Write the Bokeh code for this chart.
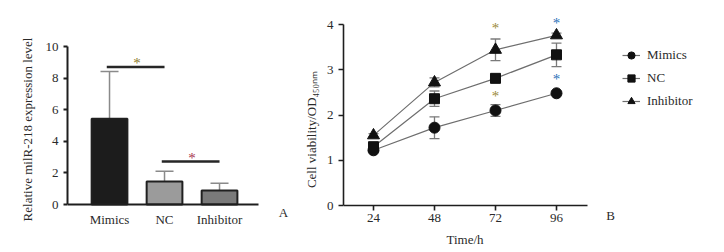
from bokeh.plotting import figure
from bokeh.layouts import row
from bokeh.models import (ColumnDataSource, Whisker, TeeHead, Label, Legend, LegendItem,
                          FixedTicker, Range1d)
from bokeh.embed import file_html
from bokeh.resources import INLINE

# ---------------- data ----------------
# Panel A
groups = ["Mimics", "NC", "Inhibitor"]
expr_mean = [5.42, 1.45, 0.88]
expr_err = [3.0, 0.65, 0.47]
bar_colors = ["#1c1c1c", "#9b9b9b", "#7a7a7a"]
sig_a_pairs = [(0, 1), (1, 2)]
sig_a_level = [8.7, 2.72]
sig_a_colors = ["#8c7a28", "#a8344e"]

# Panel B
hours = [24, 48, 72, 96]
series_names = ["Mimics", "NC", "Inhibitor"]
mimics = [1.22, 1.72, 2.10, 2.48]
mimics_err = [0.05, 0.24, 0.13, 0.04]
nc = [1.30, 2.36, 2.81, 3.33]
nc_err = [0.05, 0.17, 0.06, 0.26]
inhibitor = [1.55, 2.72, 3.44, 3.76]
inhibitor_err = [0.04, 0.10, 0.24, 0.05]
sig_b_x = [72, 72, 96, 96]
sig_b_y = [3.92, 2.41, 4.04, 2.79]
sig_b_colors = ["#9b8a3a", "#9b8a3a", "#2b70b8", "#2b70b8"]

FONT = "Liberation Serif"
TXT = "#2a2a2a"

def style(p, line_w):
    p.grid.visible = False
    p.outline_line_color = None
    p.background_fill_color = "white"
    p.border_fill_color = "white"
    for ax in p.axis:
        ax.axis_line_width = line_w
        ax.axis_line_color = "#1e1e1e"
        ax.major_tick_line_color = "#1e1e1e"
        ax.major_tick_line_width = line_w
        ax.minor_tick_line_color = None
        ax.major_label_text_font = FONT
        ax.major_label_text_font_size = "13px"
        ax.major_label_text_color = TXT
        ax.axis_label_text_font = FONT
        ax.axis_label_text_font_size = "13px"
        ax.axis_label_text_font_style = "normal"
        ax.axis_label_text_color = TXT

def lbl(x, y, text, color=TXT, size="13px"):
    return Label(x=x, y=y, text=text, text_align="center", text_baseline="middle",
                 text_font=FONT, text_font_size=size, text_color=color)

# common frame (top 8 px, bottom 250 px); axes on the zero lines
TOP, FH = 8, 242

# ---------------- Panel A ----------------
xa = [i + 1 for i in range(len(groups))]
pxa, pya = 55.0, 15.8          # pixels per unit
xa0 = 0.236
ya0 = -(250 - 204) / pya
pa = figure(width=300, height=252, output_backend="svg", toolbar_location=None,
            x_range=Range1d(xa0, xa0 + 233 / pxa), y_range=Range1d(ya0, ya0 + FH / pya),
            frame_width=233, frame_height=FH,
            min_border_left=67, min_border_right=0, min_border_top=TOP,
            min_border_bottom=2)
src_a = ColumnDataSource(dict(x=xa, top=expr_mean, color=bar_colors,
                              upper=[m + e for m, e in zip(expr_mean, expr_err)]))
pa.vbar(x="x", top="top", width=0.65, bottom=0, source=src_a, fill_color="color",
        line_color="#202020", line_width=2)
pa.add_layout(Whisker(source=src_a, base="x", lower="top", upper="upper",
                      line_color="#8a8a8a", line_width=1.5,
                      upper_head=TeeHead(size=18, line_color="#8a8a8a", line_width=1.5),
                      lower_head=None))
for (i, j), lvl, col in zip(sig_a_pairs, sig_a_level, sig_a_colors):
    pa.line([xa[i] - 0.05, xa[j]], [lvl, lvl], line_color="#262626", line_width=2.5)
    pa.add_layout(lbl((xa[i] + xa[j]) / 2, lvl + 0.25, "*", col, "15px"))
style(pa, 2)
pa.xaxis.fixed_location = 0
pa.xaxis.bounds = (xa0, 3.709)
pa.xaxis.ticker = FixedTicker(ticks=xa)
pa.xaxis.major_label_overrides = {x: g for x, g in zip(xa, groups)}
pa.xaxis.major_tick_line_color = None
pa.xaxis.major_tick_out = 0
pa.xaxis.major_label_standoff = 7
pa.yaxis.ticker = FixedTicker(ticks=[0, 2, 4, 6, 8, 10])
pa.yaxis.bounds = (0, 10)
pa.yaxis.major_tick_in = 0
pa.yaxis.major_tick_out = 4
pa.yaxis.axis_label = "Relative milR-218 expression level"
pa.yaxis.axis_label_standoff = 8
pa.add_layout(lbl(xa0 + (283 - 67) / pxa, -(212 - 204) / pya, "A"))

# ---------------- Panel B ----------------
pxb, pyb = 61 / 24, 181 / 4
xb0 = 12.2
yb0 = -(250 - 205) / pyb
pb = figure(width=424, height=252, output_backend="svg", toolbar_location=None,
            x_range=Range1d(xb0, xb0 + 383 / pxb), y_range=Range1d(yb0, yb0 + FH / pyb),
            frame_width=383, frame_height=FH,
            min_border_left=41, min_border_right=0, min_border_top=TOP,
            min_border_bottom=2)
markers = ["circle", "square", "triangle"]
sizes = [11, 10, 12]
items = []
for name, vals, errs, mk, sz in zip(series_names, [mimics, nc, inhibitor],
                                    [mimics_err, nc_err, inhibitor_err], markers, sizes):
    src = ColumnDataSource(dict(x=hours, y=vals,
                                lo=[v - e for v, e in zip(vals, errs)],
                                hi=[v + e for v, e in zip(vals, errs)]))
    ln = pb.line("x", "y", source=src, line_color="#6e6e6e", line_width=1.2)
    pb.add_layout(Whisker(source=src, base="x", lower="lo", upper="hi",
                          line_color="#7a7a7a", line_width=1.3,
                          upper_head=TeeHead(size=10, line_color="#7a7a7a", line_width=1.3),
                          lower_head=TeeHead(size=10, line_color="#7a7a7a", line_width=1.3)))
    sc = pb.scatter("x", "y", source=src, marker=mk, size=sz, fill_color="#111111",
                    line_color="#111111")
    items.append(LegendItem(label=name, renderers=[ln, sc]))
for x, y, c in zip(sig_b_x, sig_b_y, sig_b_colors):
    pb.add_layout(lbl(x, y, "*", c, "15px"))
legend = Legend(items=items, location=(279, 139), padding=0, margin=0,
                border_line_color=None, background_fill_alpha=0,
                glyph_width=18, glyph_height=20, label_height=20, spacing=3,
                label_standoff=7, label_text_font=FONT, label_text_font_size="13px",
                label_text_color=TXT)
pb.add_layout(legend)
style(pb, 1.6)
pb.xaxis.fixed_location = 0
pb.xaxis.bounds = (xb0, 108.2)
pb.xaxis.ticker = FixedTicker(ticks=hours)
pb.yaxis.ticker = FixedTicker(ticks=[0, 1, 2, 3, 4])
pb.yaxis.bounds = (0, 4)
for ax in pb.axis:
    ax.major_tick_in = 0
    ax.major_tick_out = 5
pb.xaxis.major_label_standoff = 3
pb.yaxis.axis_label = "Cell viability/OD\u2084\u2085\u2080\u2099\u2098"
pb.yaxis.axis_label_standoff = 5
pb.add_layout(lbl(60, -(239 - 205) / pyb, "Time/h"))
pb.add_layout(lbl(xb0 + (608 - 341) / pxb, -(215 - 205) / pyb, "B"))

layout = row(pa, pb, spacing=0)
open("out.html", "w").write(file_html(layout, INLINE))
